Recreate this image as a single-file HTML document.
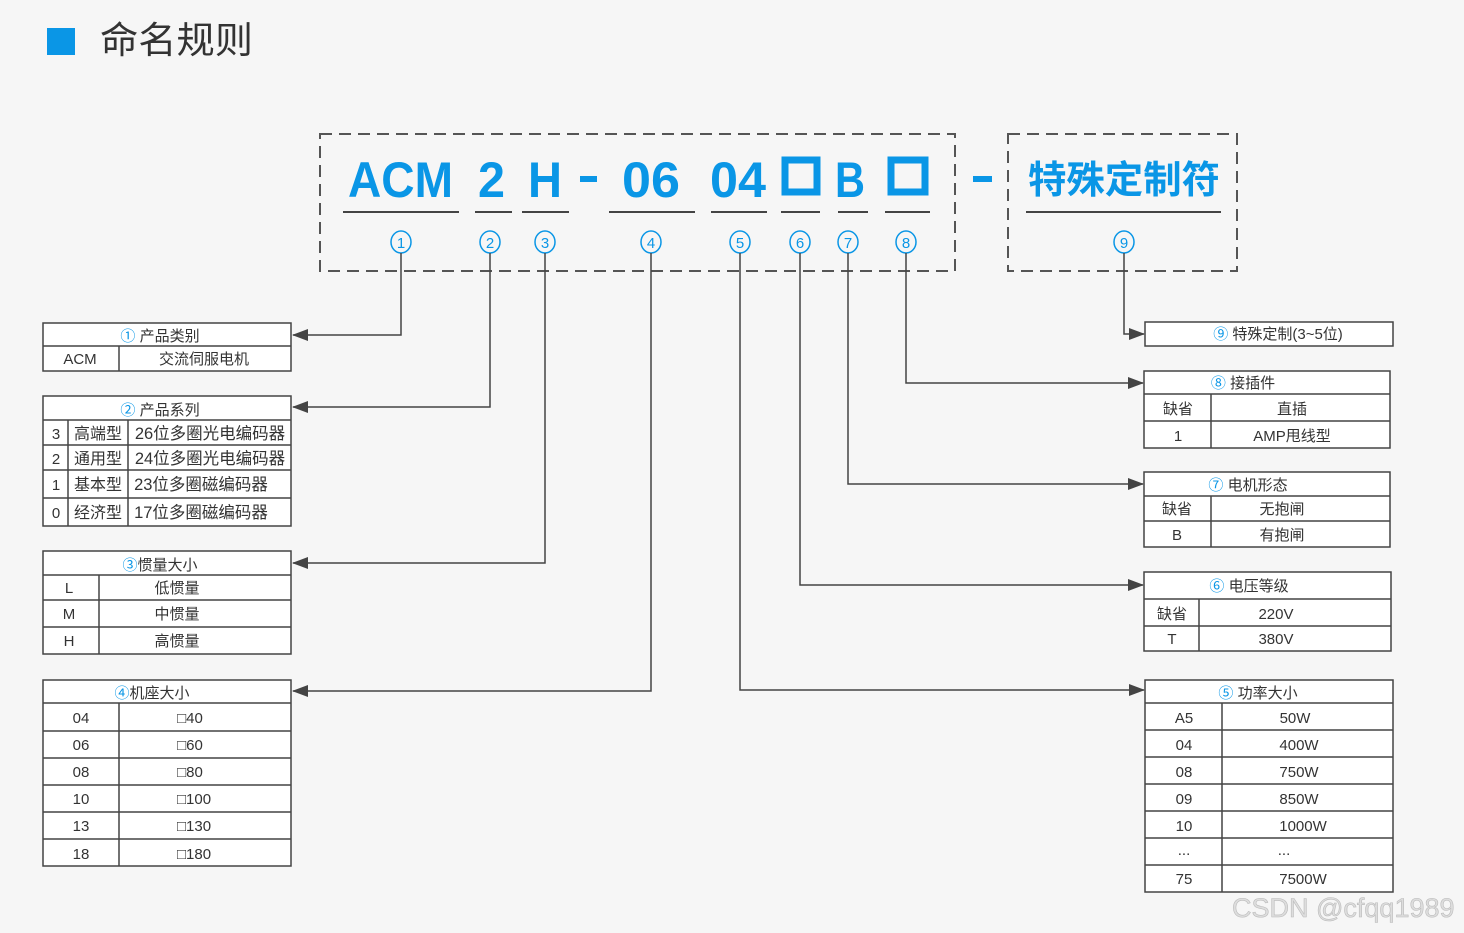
<!DOCTYPE html>
<html><head><meta charset="utf-8"><style>
html,body{margin:0;padding:0;background:#f6f6f6;}
svg{display:block;font-family:"Liberation Sans","Noto Sans CJK SC",sans-serif;}
</style></head><body>
<svg width="1464" height="933" viewBox="0 0 1464 933" xmlns="http://www.w3.org/2000/svg">
<defs>
<marker id="ar" markerWidth="16" markerHeight="12" refX="15" refY="6" orient="auto" markerUnits="userSpaceOnUse"><path d="M0,0 L16,6 L0,12 z" fill="#444"/></marker>
</defs>
<rect width="1464" height="933" fill="#f6f6f6"/>
<rect x="47" y="28" width="28" height="27" fill="#0a96e6"/>
<text x="100" y="53" font-size="37" fill="#333" textLength="153" lengthAdjust="spacingAndGlyphs">命名规则</text>

<g fill="none" stroke="#555" stroke-width="2" stroke-dasharray="12,7">
<rect x="320" y="134" width="635" height="137"/>
<rect x="1008" y="134" width="229" height="137"/>
</g>
<g fill="#0a96e6" font-weight="bold" font-size="50">
<text x="348" y="197" textLength="105" lengthAdjust="spacingAndGlyphs">ACM</text>
<text x="478" y="197" textLength="27" lengthAdjust="spacingAndGlyphs">2</text>
<text x="528" y="197" textLength="34" lengthAdjust="spacingAndGlyphs">H</text>
<text x="622" y="197" textLength="58" lengthAdjust="spacingAndGlyphs">06</text>
<text x="710" y="197" textLength="56" lengthAdjust="spacingAndGlyphs">04</text>
<text x="835" y="197" textLength="30" lengthAdjust="spacingAndGlyphs">B</text>
<text x="1028" y="193" font-size="38" textLength="192" lengthAdjust="spacingAndGlyphs">特殊定制符</text>
</g>
<rect x="580" y="176" width="17" height="6" fill="#0a96e6"/>
<rect x="973" y="176" width="19" height="6" fill="#0a96e6"/>
<rect x="785" y="160" width="32" height="32" fill="none" stroke="#0a96e6" stroke-width="7"/>
<rect x="891" y="160" width="34" height="32" fill="none" stroke="#0a96e6" stroke-width="7"/>
<g stroke="#444" stroke-width="2">
<line x1="343" y1="212" x2="459" y2="212"/><line x1="475" y1="212" x2="512" y2="212"/>
<line x1="522" y1="212" x2="569" y2="212"/><line x1="609" y1="212" x2="695" y2="212"/>
<line x1="711" y1="212" x2="767" y2="212"/><line x1="781" y1="212" x2="820" y2="212"/>
<line x1="838" y1="212" x2="868" y2="212"/><line x1="885" y1="212" x2="930" y2="212"/>
<line x1="1026" y1="212" x2="1221" y2="212"/>
</g>
<g fill="none" stroke="#0a96e6" stroke-width="1.5">
<ellipse cx="401" cy="242" rx="10" ry="11"/><ellipse cx="490" cy="242" rx="10" ry="11"/>
<ellipse cx="545" cy="242" rx="10" ry="11"/><ellipse cx="651" cy="242" rx="10" ry="11"/>
<ellipse cx="740" cy="242" rx="10" ry="11"/><ellipse cx="800" cy="242" rx="10" ry="11"/>
<ellipse cx="848" cy="242" rx="10" ry="11"/><ellipse cx="906" cy="242" rx="10" ry="11"/>
<ellipse cx="1124" cy="242" rx="10" ry="11"/>
</g>
<g fill="#0a96e6" font-size="15" text-anchor="middle">
<text x="401" y="248">1</text><text x="490" y="248">2</text><text x="545" y="248">3</text>
<text x="651" y="248">4</text><text x="740" y="248">5</text><text x="800" y="248">6</text>
<text x="848" y="248">7</text><text x="906" y="248">8</text><text x="1124" y="248">9</text>
</g>
<g fill="none" stroke="#444" stroke-width="1.5">
<polyline points="401,253 401,335 293,335" marker-end="url(#ar)"/>
<polyline points="490,253 490,407 293,407" marker-end="url(#ar)"/>
<polyline points="545,253 545,563 293,563" marker-end="url(#ar)"/>
<polyline points="651,253 651,691 293,691" marker-end="url(#ar)"/>
<polyline points="740,253 740,690 1144,690" marker-end="url(#ar)"/>
<polyline points="800,253 800,585 1143,585" marker-end="url(#ar)"/>
<polyline points="848,253 848,484 1143,484" marker-end="url(#ar)"/>
<polyline points="906,253 906,383 1143,383" marker-end="url(#ar)"/>
<polyline points="1124,253 1124,334 1144,334" marker-end="url(#ar)"/>
</g>

<g fill="#fff" stroke="#444" stroke-width="1.5">
<rect x="43" y="323" width="248" height="48"/>
<rect x="43" y="396" width="248" height="130"/>
<rect x="43" y="551" width="248" height="103"/>
<rect x="43" y="680" width="248" height="186"/>
<rect x="1145" y="322" width="248" height="24"/>
<rect x="1144" y="371" width="246" height="77"/>
<rect x="1144" y="472" width="246" height="75"/>
<rect x="1144" y="572" width="247" height="79"/>
<rect x="1145" y="680" width="248" height="212"/>
</g>
<g stroke="#444" stroke-width="1.5">
<line x1="43" y1="346" x2="291" y2="346"/><line x1="119" y1="346" x2="119" y2="371"/>
<line x1="43" y1="420" x2="291" y2="420"/><line x1="43" y1="445" x2="291" y2="445"/>
<line x1="43" y1="470" x2="291" y2="470"/><line x1="43" y1="498" x2="291" y2="498"/>
<line x1="68" y1="420" x2="68" y2="526"/><line x1="128" y1="420" x2="128" y2="526"/>
<line x1="43" y1="575" x2="291" y2="575"/><line x1="43" y1="600" x2="291" y2="600"/>
<line x1="43" y1="627" x2="291" y2="627"/><line x1="99" y1="575" x2="99" y2="654"/>
<line x1="43" y1="703" x2="291" y2="703"/><line x1="43" y1="731" x2="291" y2="731"/>
<line x1="43" y1="758" x2="291" y2="758"/><line x1="43" y1="785" x2="291" y2="785"/>
<line x1="43" y1="812" x2="291" y2="812"/><line x1="43" y1="839" x2="291" y2="839"/>
<line x1="119" y1="703" x2="119" y2="866"/>
<line x1="1144" y1="394" x2="1390" y2="394"/><line x1="1144" y1="421" x2="1390" y2="421"/>
<line x1="1211" y1="394" x2="1211" y2="448"/>
<line x1="1144" y1="496" x2="1390" y2="496"/><line x1="1144" y1="521" x2="1390" y2="521"/>
<line x1="1211" y1="496" x2="1211" y2="547"/>
<line x1="1144" y1="599" x2="1391" y2="599"/><line x1="1144" y1="626" x2="1391" y2="626"/>
<line x1="1199" y1="599" x2="1199" y2="651"/>
<line x1="1145" y1="703" x2="1393" y2="703"/><line x1="1145" y1="730" x2="1393" y2="730"/>
<line x1="1145" y1="757" x2="1393" y2="757"/><line x1="1145" y1="784" x2="1393" y2="784"/>
<line x1="1145" y1="811" x2="1393" y2="811"/><line x1="1145" y1="838" x2="1393" y2="838"/>
<line x1="1145" y1="865" x2="1393" y2="865"/>
<line x1="1222" y1="703" x2="1222" y2="892"/>
</g>

<g font-size="15" fill="#333" text-anchor="middle">
<text x="160" y="341"><tspan fill="#0a96e6">①</tspan> 产品类别</text>
<text x="80" y="364">ACM</text><text x="204" y="364">交流伺服电机</text>
<text x="160" y="415"><tspan fill="#0a96e6">②</tspan> 产品系列</text>
<text x="56" y="439">3</text><text x="98" y="439" font-size="16">高端型</text><text x="210" y="439" font-size="16.5">26位多圈光电编码器</text>
<text x="56" y="464">2</text><text x="98" y="464" font-size="16">通用型</text><text x="210" y="464" font-size="16.5">24位多圈光电编码器</text>
<text x="56" y="490">1</text><text x="98" y="490" font-size="16">基本型</text><text x="201" y="490" font-size="16.5">23位多圈磁编码器</text>
<text x="56" y="518">0</text><text x="98" y="518" font-size="16">经济型</text><text x="201" y="518" font-size="16.5">17位多圈磁编码器</text>
<text x="160" y="570"><tspan fill="#0a96e6">③</tspan>惯量大小</text>
<text x="69" y="593">L</text><text x="177" y="593">低惯量</text>
<text x="69" y="619">M</text><text x="177" y="619">中惯量</text>
<text x="69" y="646">H</text><text x="177" y="646">高惯量</text>
<text x="152" y="698"><tspan fill="#0a96e6">④</tspan>机座大小</text>
<text x="81" y="723">04</text><text x="190" y="723">□40</text>
<text x="81" y="750">06</text><text x="190" y="750">□60</text>
<text x="81" y="777">08</text><text x="190" y="777">□80</text>
<text x="81" y="804">10</text><text x="194" y="804">□100</text>
<text x="81" y="831">13</text><text x="194" y="831">□130</text>
<text x="81" y="859">18</text><text x="194" y="859">□180</text>

<text x="1278" y="339"><tspan fill="#0a96e6">⑨</tspan> 特殊定制(3~5位)</text>
<text x="1243" y="388"><tspan fill="#0a96e6">⑧</tspan> 接插件</text>
<text x="1178" y="414">缺省</text><text x="1292" y="414">直插</text>
<text x="1178" y="441">1</text><text x="1292" y="441">AMP甩线型</text>
<text x="1248" y="490"><tspan fill="#0a96e6">⑦</tspan> 电机形态</text>
<text x="1177" y="514">缺省</text><text x="1282" y="514">无抱闸</text>
<text x="1177" y="540">B</text><text x="1282" y="540">有抱闸</text>
<text x="1249" y="591"><tspan fill="#0a96e6">⑥</tspan> 电压等级</text>
<text x="1172" y="619">缺省</text><text x="1276" y="619">220V</text>
<text x="1172" y="644">T</text><text x="1276" y="644">380V</text>
<text x="1258" y="698"><tspan fill="#0a96e6">⑤</tspan> 功率大小</text>
<text x="1184" y="723">A5</text><text x="1295" y="723">50W</text>
<text x="1184" y="750">04</text><text x="1299" y="750">400W</text>
<text x="1184" y="777">08</text><text x="1299" y="777">750W</text>
<text x="1184" y="804">09</text><text x="1299" y="804">850W</text>
<text x="1184" y="831">10</text><text x="1303" y="831">1000W</text>
<text x="1184" y="855">...</text><text x="1284" y="855">...</text>
<text x="1184" y="884">75</text><text x="1303" y="884">7500W</text>
</g>
<text x="1232" y="917" font-size="27" fill="#ddd" stroke="#bbb" stroke-width="0.6">CSDN @cfqq1989</text>
</svg>
</body></html>
